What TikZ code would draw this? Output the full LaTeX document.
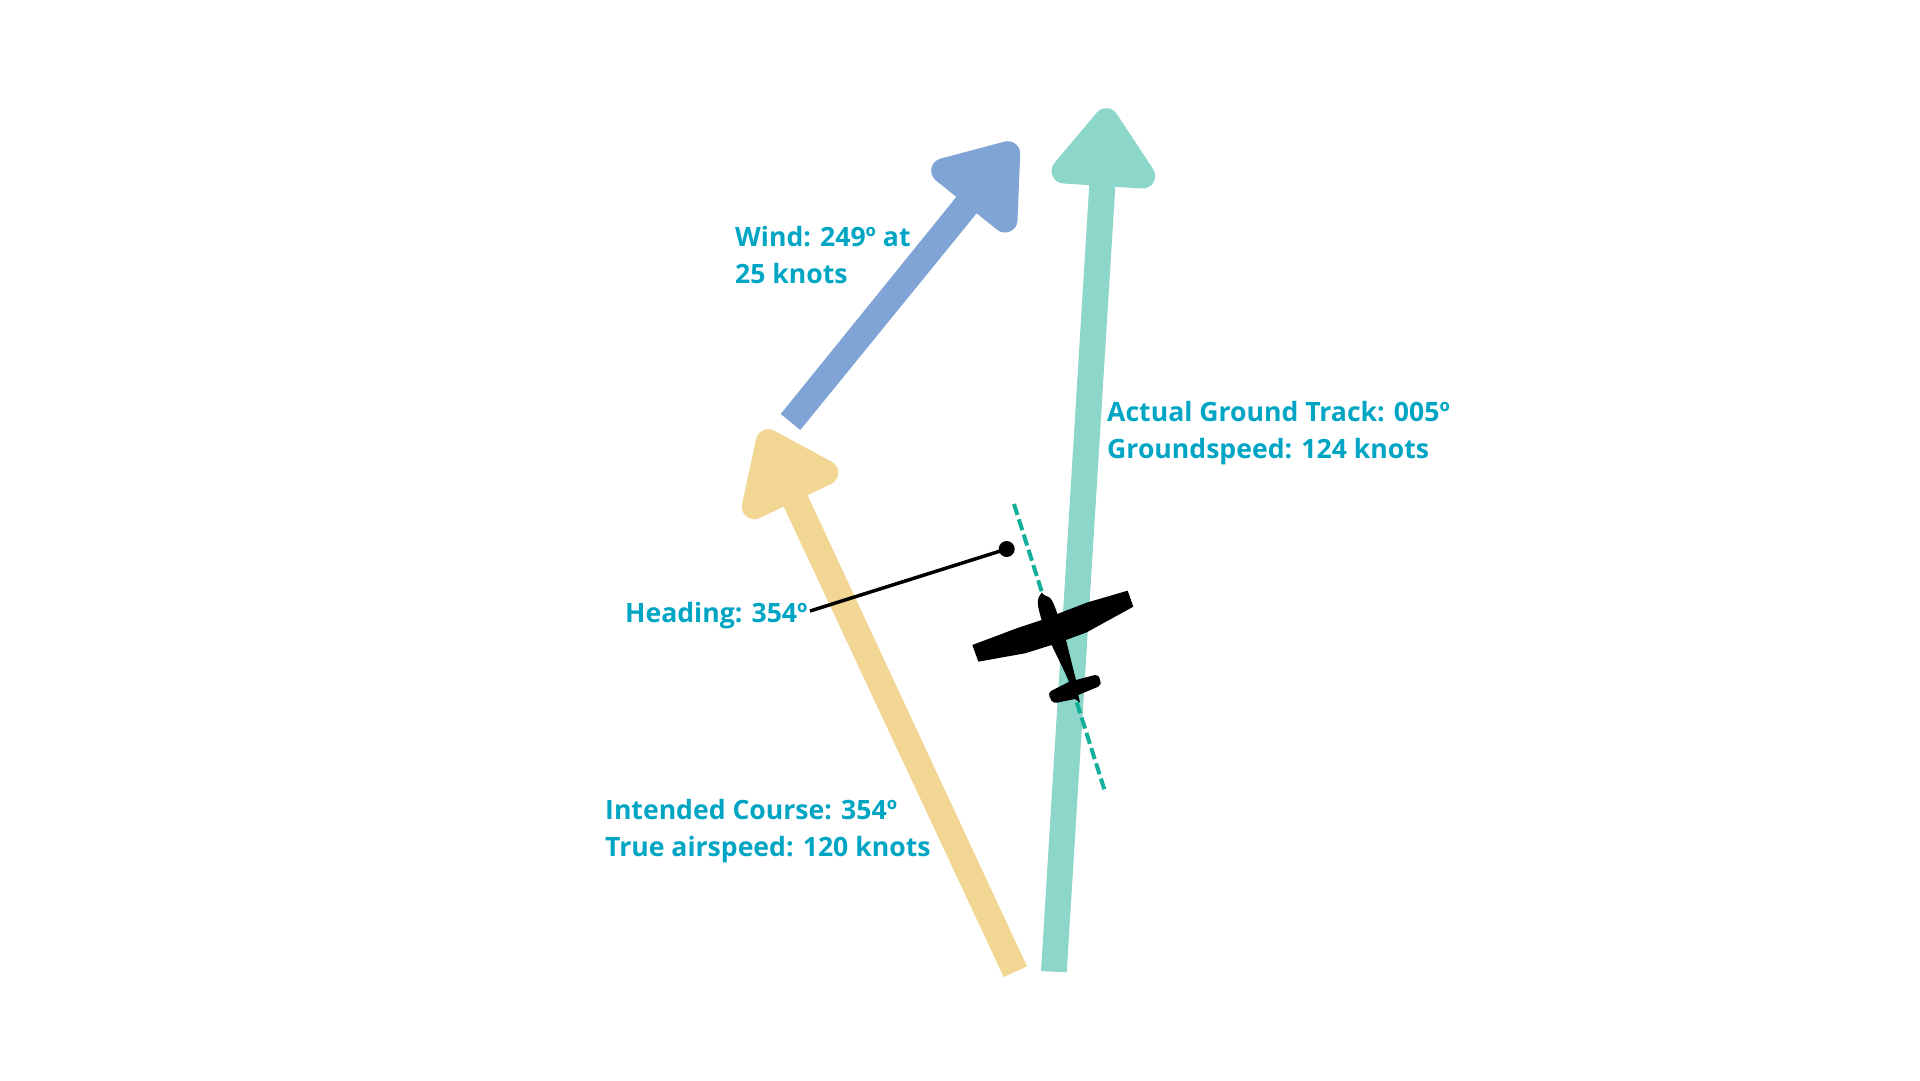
\documentclass[tikz,border=0pt]{standalone}
\usepackage{fontspec}
\setmainfont{Open Sans}
\definecolor{lab}{HTML}{00A5C4}
\definecolor{yel}{HTML}{F2D693}
\definecolor{blu}{HTML}{81A4D6}
\definecolor{tea}{HTML}{8CD6CA}
\definecolor{das}{HTML}{12B09A}
\tikzset{
  lbl/.style={text=lab,font=\bfseries\fontsize{26.6}{37}\selectfont,align=left,anchor=north west,inner sep=0pt},
  headr/.style={line width=25pt,line join=round},
}
\begin{document}
\begin{tikzpicture}[x=1pt,y=-1pt]
\useasboundingbox (0,0) rectangle (1920,1080);
% yellow
\fill[yel] (1003.7,977) -- (1027,966.3) -- (803.5,486.6) -- (779.5,497.6) -- cycle;
\filldraw[yel,headr] (768.3,441.7) -- (825.7,472.7) -- (754.3,506.7) -- cycle;
% teal
\fill[tea] (1041,971) -- (1066.7,972.3) -- (1115.9,176.7) -- (1089.9,174.7) -- cycle;
\filldraw[tea,headr] (1106.3,120.7) -- (1142.7,176) -- (1064,171) -- cycle;
% blue
\fill[blu] (780.7,414) -- (800.3,430) -- (982.6,206) -- (962.3,189.5) -- cycle;
\filldraw[blu,headr] (1007.7,153.7) -- (1005,220) -- (943.7,170.7) -- cycle;
% dashed
\coordinate (dA) at (1014,504);
\coordinate (dB) at (1104.3,789.3);
\draw[das,line width=4pt,dash pattern=on 11.5pt off 4.5pt] (dA) -- (dB);
% plane
\begin{scope}[shift={(940,480)},x=0.3333pt,y=-0.3333pt]
\fill[black] (305,338) -- (296,352) .. controls (291,365) and (294,385) .. (305,420)
 -- (230,445) -- (97,495) -- (115,545) -- (255,520) -- (335,495)
 -- (388,605) -- (335,632) .. controls (325,637) and (326,645) .. (331,655)
 .. controls (335,666) and (342,669) .. (352,668) -- (405,657) -- (420,668) -- (415,645)
 -- (475,620) .. controls (483,615) and (483,610) .. (480,600) .. controls (477,588) and (473,584) .. (465,585)
 -- (408,600) -- (378,480) -- (440,457) -- (580,380) -- (563,332) -- (440,368) -- (352,402)
 .. controls (345,380) and (338,360) .. (328,352) -- (312,345) -- cycle;
\end{scope}
% leader
\coordinate (hl) at (810,611);
\node[circle,fill=black,inner sep=0pt,minimum size=16pt] (dot) at (1006.7,549) {};
\draw[black,line width=3.5pt] (hl) -- (dot.center);
% labels
\node[lbl] (wind) at (735,226) {Wind: 249º at\\25 knots};
\node[lbl] (track) at (1107,401) {Actual Ground Track: 005º\\Groundspeed: 124 knots};
\node[lbl] (head) at (625,602) {Heading: 354º};
\node[lbl] (course) at (605,799) {Intended Course: 354º\\True airspeed: 120 knots};
\end{tikzpicture}
\end{document}
